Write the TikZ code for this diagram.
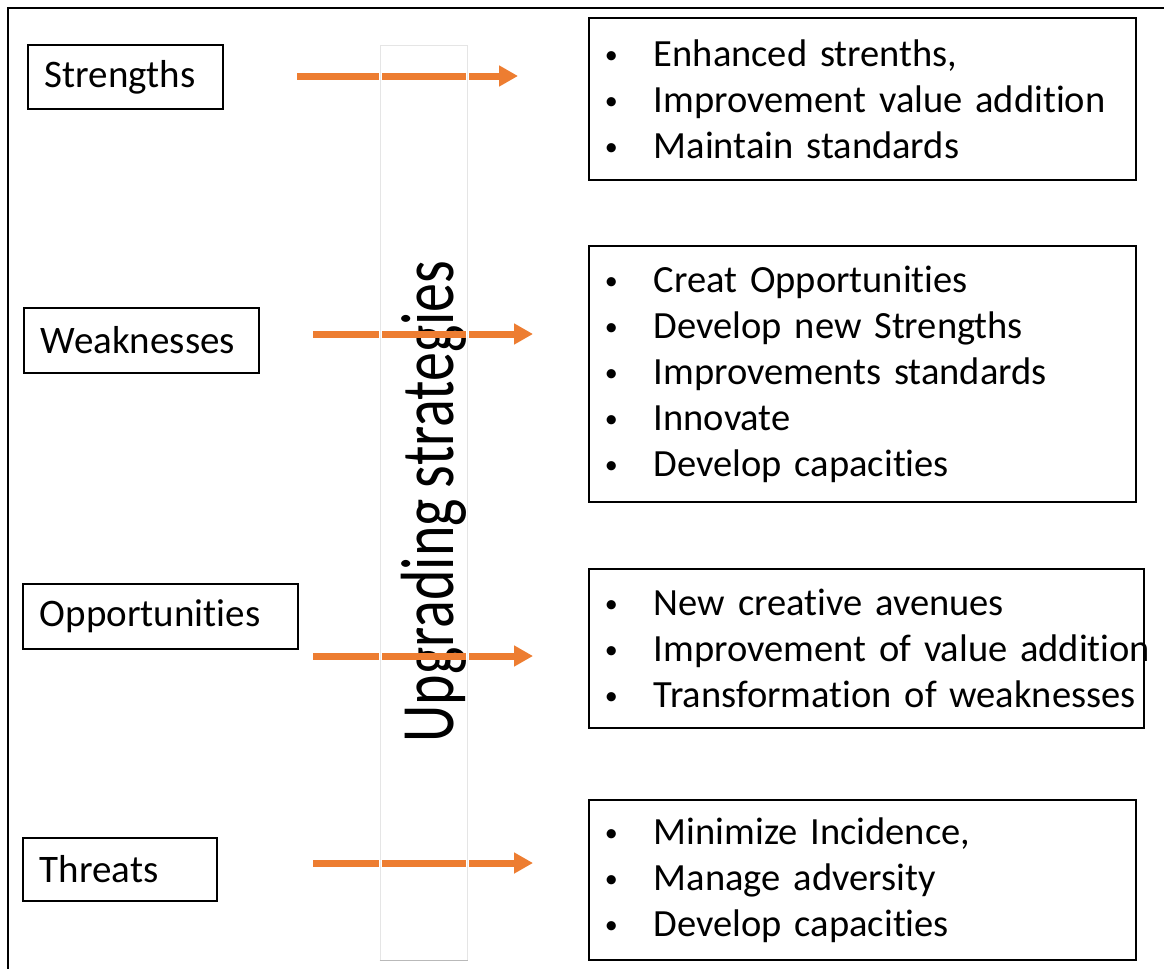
\documentclass[tikz,border=0pt]{standalone}
\usepackage{fontspec}
\usepackage{graphicx}
\setmainfont{Carlito}[Ligatures=NoCommon, WordSpace=0.85]
\usetikzlibrary{arrows.meta}

\definecolor{arroworange}{RGB}{237,125,49}
% bullet column of the strategy lists
\newcommand{\bul}[1]{\mbox{\makebox[49pt][l]{\raisebox{3pt}{\fontsize{26}{26}\selectfont\textbullet}}#1}}

\begin{document}
\begin{tikzpicture}[x=1pt,y=-1pt]
  \useasboundingbox (0,0) rectangle (1164,969);

  % outer frame, only top and left edge in view
  \draw[line width=2] (1164,8) -- (8,8) -- (8,969);

  % SWOT labels
  \begin{scope}[every node/.style={draw, line width=1.6, anchor=west, align=left,
      inner xsep=17, inner ysep=0, font=\fontsize{39}{46}\selectfont}]
    \node[minimum height=64, text width=161] (s) at (27,77)    {Strengths};
    \node[minimum height=65, text width=201] (w) at (23,340.5) {Weaknesses};
    \node[minimum height=65, text width=241] (o) at (22,616.5) {Opportunities};
    \node[minimum height=63, text width=160] (t) at (22,869.5) {Threats};
  \end{scope}

  % strategy lists
  \begin{scope}[every node/.style={draw, line width=1.6, anchor=west, align=left,
      inner xsep=16, inner ysep=0, text width=515, font=\fontsize{38.5}{46}\selectfont}]
    \node[minimum height=162] (s-list) at (588,99)
      {\bul{Enhanced strenths,}\\ \bul{Improvement value addition}\\ \bul{Maintain standards}};
    \node[minimum height=256] (w-list) at (588,374)
      {\bul{Creat Opportunities}\\ \bul{Develop new Strengths}\\ \bul{Improvements standards}\\
       \bul{Innovate}\\ \bul{Develop capacities}};
    \node[minimum height=159, text width=523] (o-list) at (588,648.5)
      {\bul{New creative avenues}\\ \bul{Improvement of value addition}\\
       \bul{Transformation of weaknesses}};
    \node[minimum height=160] (t-list) at (588,880)
      {\bul{Minimize Incidence,}\\ \bul{Manage adversity}\\ \bul{Develop capacities}};
  \end{scope}

  % vertical title
  \node[rotate=90, anchor=base, inner sep=0, font=\fontsize{58}{70}\selectfont] (title)
    at (453,501.5) {\scalebox{1}[1.3]{Upgrading strategies}};

  % arrows
  \coordinate (s-from) at (297,76);  \coordinate (s-to) at (518,76);
  \coordinate (w-from) at (313,334); \coordinate (w-to) at (533,334);
  \coordinate (o-from) at (313,656); \coordinate (o-to) at (533,656);
  \coordinate (t-from) at (313,863); \coordinate (t-to) at (533,863);

  \begin{scope}[every path/.style={draw=arroworange, line width=7,
      -{Triangle[length=19pt,width=20pt]}}]
    \path (s-from) -- (s-to);
    \path (w-from) -- (w-to);
    \path (o-from) -- (o-to);
    \path (t-from) -- (t-to);
  \end{scope}

  % strip behind the title
  \node[draw=gray!20, line width=1, minimum width=87, minimum height=915,
    preaction={draw=white, line width=3}] (bar) at (423.5,502.5) {};
  \draw[gray!55, line width=1.2] (bar.south west) -- (bar.south east);

\end{tikzpicture}
\end{document}
